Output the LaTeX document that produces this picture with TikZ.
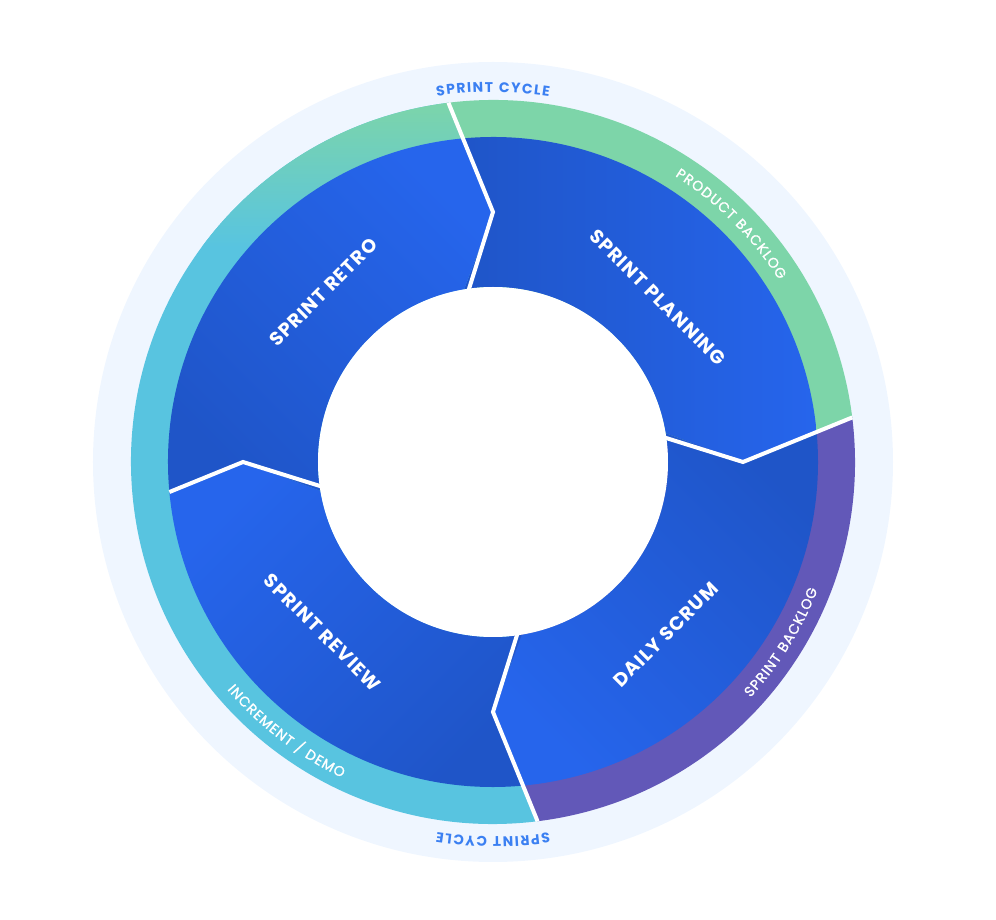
\documentclass[tikz,border=0pt]{standalone}
\usepackage{fontspec}
\setmainfont{Poppins}
\newfontfamily\segfont[LetterSpace=6]{Poppins}
\newfontfamily\bandfont[FakeBold=1.3]{Poppins}
\newfontfamily\cyclefont{Poppins}
\usetikzlibrary{decorations.text}

\definecolor{haze}{HTML}{EFF6FF}
\definecolor{backlog}{HTML}{7DD5A9}
\definecolor{sprintlog}{HTML}{6258B8}
\definecolor{demo}{HTML}{58C4E0}
\definecolor{deepblue}{HTML}{1F55C8}
\definecolor{brightblue}{HTML}{2665EC}
\definecolor{cycleblue}{HTML}{3B80F2}

% one quarter of the wheel, from boundary #1 clockwise to boundary #2
\newcommand\wheelpart[2]{%
  ({#1+5.3}:325) arc[start angle={#1+5.3}, end angle={#2+5.3}, radius=325]
  -- (#2:250) -- ({#2+9.5}:175)
  arc[start angle={#2+9.5}, end angle={#1+9.5}, radius=175]
  -- (#1:250) -- cycle}

\tikzset{
  seglabel/.style={text=white, font=\segfont\bfseries\fontsize{19}{20}\selectfont, inner sep=0pt},
  divider/.style={draw=white, line width=4pt, line join=miter},
  bandtext/.style n args={4}{decorate, decoration={text effects along path,
    text={#1}, text align=center, text effects/.cd, text along path,
    every character/.append style={text=#2, font=#3, inner xsep=#4}}},
}

\begin{document}
\begin{tikzpicture}[x=1pt, y=1pt]
\useasboundingbox (-493,-458) rectangle (503,462);

% outer pale disc
\fill[haze] (0,0) circle[radius=400];

% divider geometry
\foreach \a/\n in {90/t, 0/r, -90/b, 180/l}{
  \coordinate (in-\n) at ({\a+9.5}:165);
  \coordinate (mid-\n) at (\a:250);
  \coordinate (out-\n) at ({\a+5.3}:325);
  \coordinate (rim-\n) at ({\a+7.07}:362);
}

% coloured band
\fill[backlog] (0,0) -- (out-t) -- (rim-t) arc[start angle=97.07, end angle=7.07, radius=362] -- (out-r) -- cycle;
\fill[sprintlog] (0,0) -- (out-r) -- (rim-r) arc[start angle=7.07, end angle=-82.93, radius=362] -- (out-b) -- cycle;
\fill[demo] (0,0) -- (out-b) -- (rim-b) arc[start angle=-82.93, end angle=-262.93, radius=362] -- (out-t) -- cycle;
\begin{scope}
  \clip (0,0) -- (out-b) -- (rim-b) arc[start angle=-82.93, end angle=-262.93, radius=362] -- (out-t) -- cycle;
  \shade[top color=backlog, bottom color=demo] (-362,215) rectangle (0,362);
\end{scope}

% the four phases
\shade[top color=deepblue, bottom color=brightblue, shading angle=90] \wheelpart{90}{0};
\shade[top color=deepblue, bottom color=brightblue, shading angle=-45] \wheelpart{0}{-90};
\shade[top color=brightblue, bottom color=deepblue, shading angle=45] \wheelpart{270}{180};
\shade[top color=brightblue, bottom color=deepblue, shading angle=-45] \wheelpart{180}{90};

% chevron dividers
\draw[divider] (in-t) -- (mid-t) -- (out-t) -- (rim-t);
\draw[divider] (in-r) -- (mid-r) -- (out-r) -- (rim-r);
\draw[divider] (in-b) -- (mid-b) -- (out-b) -- (rim-b);
\draw[divider] (in-l) -- (mid-l) -- (out-l);

% hub
\fill[white] (0,0) circle[radius=175];

% phase names
\node[seglabel, rotate=-45] (planning) at (45:233) {SPRINT PLANNING};
\node[seglabel, rotate=45] (scrum) at (-45:244) {DAILY SCRUM};
\node[seglabel, rotate=-45] (review) at (225:241) {SPRINT REVIEW};
\node[seglabel, rotate=45] (retro) at (135:240) {SPRINT RETRO};

% curved captions
\path[bandtext={SPRINT CYCLE}{cycleblue}{\cyclefont\bfseries\fontsize{14}{14}\selectfont}{0.7pt}]
  (112:370) arc[start angle=112, end angle=68, radius=370];
\path[bandtext={SPRINT CYCLE}{cycleblue}{\cyclefont\bfseries\fontsize{14}{14}\selectfont}{0.7pt}]
  (-68:375) arc[start angle=-68, end angle=-112, radius=375];
\path[bandtext={PRODUCT BACKLOG}{white}{\bandfont\fontsize{14}{14}\selectfont}{0.5pt}]
  (70:339) arc[start angle=70, end angle=20, radius=339];
\path[bandtext={SPRINT BACKLOG}{white}{\bandfont\fontsize{14}{14}\selectfont}{0.5pt}]
  (-57:349) arc[start angle=-57, end angle=-7, radius=349];
\path[bandtext={INCREMENT / DEMO}{white}{\bandfont\fontsize{14}{14}\selectfont}{0.5pt}]
  (207.5:350) arc[start angle=207.5, end angle=257.5, radius=350];
\end{tikzpicture}
\end{document}
